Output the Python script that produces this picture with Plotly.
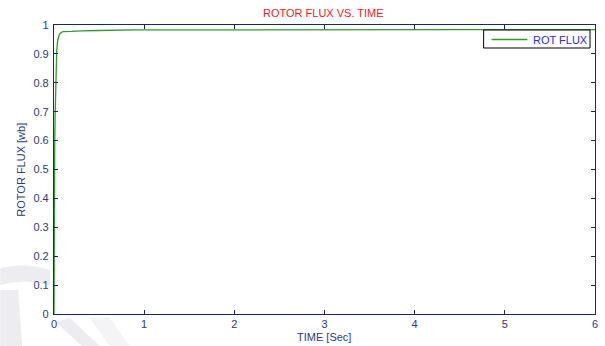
import plotly.graph_objects as go

# Rotor flux response of the motor drive
time_s = [0.0, 0.002, 0.005, 0.008, 0.012, 0.016, 0.02, 0.025, 0.03, 0.04,
          0.05, 0.06, 0.08, 0.1, 0.2, 0.3, 0.5, 0.9, 1.5, 2.5, 3.5, 4.5, 6.0]
rotor_flux = [0.0, 0.42, 0.5, 0.58, 0.68, 0.76, 0.83, 0.88, 0.91, 0.945,
              0.96, 0.968, 0.974, 0.977, 0.978, 0.980, 0.981, 0.983, 0.983,
              0.984, 0.984, 0.984, 0.984]
series_name = "ROT FLUX"

x_ticks = [0, 1, 2, 3, 4, 5, 6]
y_ticks = [0, 0.1, 0.2, 0.3, 0.4, 0.5, 0.6, 0.7, 0.8, 0.9, 1]

W, H = 605, 346
L, R, T, B = 54, 7, 25, 32
PW, PH = W - L - R, H - T - B

AXIS = "#1b2668"
LABEL = "#2c3b7c"
LINE = "#2e9a2e"
FONT = "Liberation Sans, Arial, sans-serif"


def px(xp):
    """pixel x -> paper x"""
    return (xp - L) / PW


def py(yp):
    """pixel y -> paper y"""
    return (H - B - yp) / PH


fig = go.Figure()
fig.add_trace(go.Scatter(
    x=time_s, y=rotor_flux, mode="lines", name=series_name,
    line=dict(color=LINE, width=1.3), showlegend=False,
))

axis_common = dict(
    showgrid=False, zeroline=False, showline=True, linecolor=AXIS, linewidth=1.2,
    mirror="allticks", ticks="inside", ticklen=4, tickcolor=AXIS, tickwidth=1,
    tickfont=dict(family=FONT, size=11, color=LABEL),
)

shapes = []
# faint background stamp in the lower-left margin
stamp = dict(type="path", xref="paper", yref="paper", layer="below",
             line=dict(width=0), fillcolor="rgba(200,200,215,0.35)")
shapes.append(dict(stamp, path=f"M {px(0)},{py(268)} Q {px(25)},{py(262)} {px(50)},{py(270)} "
                               f"L {px(50)},{py(285)} Q {px(25)},{py(278)} {px(0)},{py(285)} Z"))
shapes.append(dict(stamp, path=f"M {px(0)},{py(290)} L {px(18)},{py(290)} L {px(22)},{py(346)} "
                               f"L {px(0)},{py(346)} Z"))
shapes.append(dict(stamp, path=f"M {px(56)},{py(322)} L {px(70)},{py(318)} L {px(100)},{py(346)} "
                               f"L {px(82)},{py(346)} Z"))
shapes.append(dict(stamp, path=f"M {px(90)},{py(318)} L {px(110)},{py(318)} L {px(130)},{py(346)} "
                               f"L {px(110)},{py(346)} Z", fillcolor="rgba(200,200,215,0.2)"))

# legend box
shapes.append(dict(type="rect", xref="paper", yref="paper",
                   x0=px(486), x1=px(593), y0=py(48), y1=py(30),
                   line=dict(color="black", width=1), fillcolor="white"))
shapes.append(dict(type="line", xref="paper", yref="paper",
                   x0=px(494), x1=px(530), y0=py(39.5), y1=py(39.5),
                   line=dict(color=LINE, width=1.6)))

fig.update_layout(
    width=W, height=H,
    margin=dict(l=L, r=R, t=T, b=B),
    paper_bgcolor="white", plot_bgcolor="white",
    showlegend=False,
    xaxis=dict(range=[0, 6], tickvals=x_ticks, ticktext=[str(v) for v in x_ticks],
               ticklabelstandoff=0, **axis_common),
    yaxis=dict(range=[0, 1], tickvals=y_ticks, ticktext=[f"{v:g}" for v in y_ticks],
               ticklabelstandoff=2, **axis_common),
    shapes=shapes,
    annotations=[
        dict(text="ROTOR FLUX VS. TIME", x=px(325), y=py(13), xref="paper", yref="paper",
             showarrow=False, font=dict(family=FONT, size=11, color="#ee2222"),
             xanchor="center", yanchor="middle"),
        dict(text="TIME [Sec]", x=px(325), y=py(337), xref="paper", yref="paper",
             showarrow=False, font=dict(family=FONT, size=11, color=LABEL),
             xanchor="center", yanchor="middle"),
        dict(text="ROTOR FLUX [wb]", x=px(20.5), y=py(170), xref="paper", yref="paper",
             showarrow=False, textangle=-90, font=dict(family=FONT, size=11, color=LABEL),
             xanchor="center", yanchor="middle"),
        dict(text=series_name, x=px(534), y=py(39.5), xref="paper", yref="paper",
             showarrow=False, font=dict(family=FONT, size=11, color="#2a2aee"),
             xanchor="left", yanchor="middle"),
    ],
)

fig.write_html("out.html")
